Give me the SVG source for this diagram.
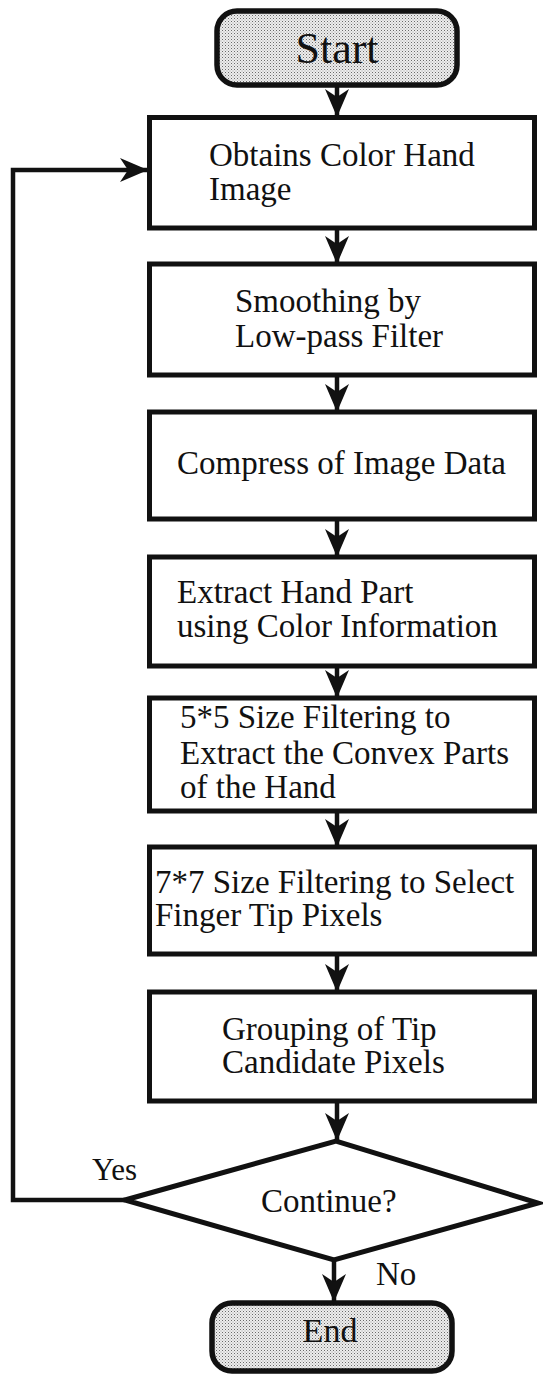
<svg xmlns="http://www.w3.org/2000/svg" width="543" height="1374" viewBox="0 0 543 1374">
  <defs>
    <!-- halftone dot fill for the terminator pills -->
    <pattern id="dots" width="3" height="3" patternUnits="userSpaceOnUse">
      <rect width="3" height="3" fill="#ededed"/>
      <rect x="0" y="0" width="1" height="1" fill="#6a6a6a"/>
      <rect x="1.5" y="1.5" width="1" height="1" fill="#a0a0a0"/>
    </pattern>
    <marker id="ah" markerUnits="userSpaceOnUse" markerWidth="36" markerHeight="30" viewBox="-32 -15 34 30" refX="0" refY="0" orient="auto">
      <path d="M0,0 L-28,-12 L-20,0 L-28,12 Z" fill="#111"/>
    </marker>
    <style>
      .box { fill: #fff; stroke: #111; stroke-width: 5; }
      .pill { fill: url(#dots); stroke: #111; stroke-width: 5.5; }
      .edge { fill: none; stroke: #111; stroke-width: 4.5; marker-end: url(#ah); }
      .wire { fill: none; stroke: #111; stroke-width: 4.5; }
      text { font-family: "Liberation Serif", "Times New Roman", serif; font-size: 33px; fill: #111; }
      .big { font-size: 44px; text-anchor: middle; }
      .mid { font-size: 34px; text-anchor: middle; }
    </style>
  </defs>

  <g id="connectors">
    <path class="edge" d="M337,86 V117"/>
    <path class="edge" d="M337,230 V264"/>
    <path class="edge" d="M337,377 V412"/>
    <path class="edge" d="M337,521 V557"/>
    <path class="edge" d="M337,668 V698"/>
    <path class="edge" d="M337,813 V847"/>
    <path class="edge" d="M337,956 V992"/>
    <path class="edge" d="M337,1103 V1141"/>
    <path class="edge" d="M334,1261 V1302"/>
    <path class="edge" d="M125,1200 H13 V170 H148"/>
  </g>

  <g id="start">
    <rect class="pill" x="217" y="11" width="240" height="74" rx="20"/>
    <text class="big" x="337" y="63">Start</text>
  </g>

  <g id="obtain">
    <rect class="box" x="149.5" y="117.5" width="385" height="110.5"/>
    <text x="209" y="166">Obtains Color Hand</text>
    <text x="209" y="200">Image</text>
  </g>

  <g id="smooth">
    <rect class="box" x="149.5" y="264" width="385" height="111"/>
    <text x="235" y="312">Smoothing by</text>
    <text x="235" y="347">Low-pass Filter</text>
  </g>

  <g id="compress">
    <rect class="box" x="149.5" y="412" width="385" height="107"/>
    <text x="177" y="474">Compress of Image Data</text>
  </g>

  <g id="extract">
    <rect class="box" x="149.5" y="557" width="385" height="109"/>
    <text x="177" y="603">Extract Hand Part</text>
    <text x="177" y="637">using Color Information</text>
  </g>

  <g id="convex">
    <rect class="box" x="149.5" y="698" width="385" height="113"/>
    <text x="180" y="728">5*5 Size Filtering to</text>
    <text x="180" y="764">Extract the Convex Parts</text>
    <text x="180" y="798">of the Hand</text>
  </g>

  <g id="tips">
    <rect class="box" x="149.5" y="847" width="385" height="107"/>
    <text x="155" y="893">7*7 Size Filtering to Select</text>
    <text x="155" y="926">Finger Tip Pixels</text>
  </g>

  <g id="group">
    <rect class="box" x="149.5" y="992" width="385" height="109"/>
    <text x="222" y="1040">Grouping of Tip</text>
    <text x="222" y="1073">Candidate Pixels</text>
  </g>

  <g id="decide">
    <polygon class="box" points="125,1200 336,1141 538,1203 334,1260"/>
    <text x="261" y="1212">Continue?</text>
    <text x="92" y="1180" style="font-size:31px">Yes</text>
    <text x="376" y="1285" style="font-size:33px">No</text>
  </g>

  <g id="end">
    <rect class="pill" x="212" y="1303" width="240" height="68" rx="20"/>
    <text class="mid" x="330" y="1342">End</text>
  </g>
</svg>
